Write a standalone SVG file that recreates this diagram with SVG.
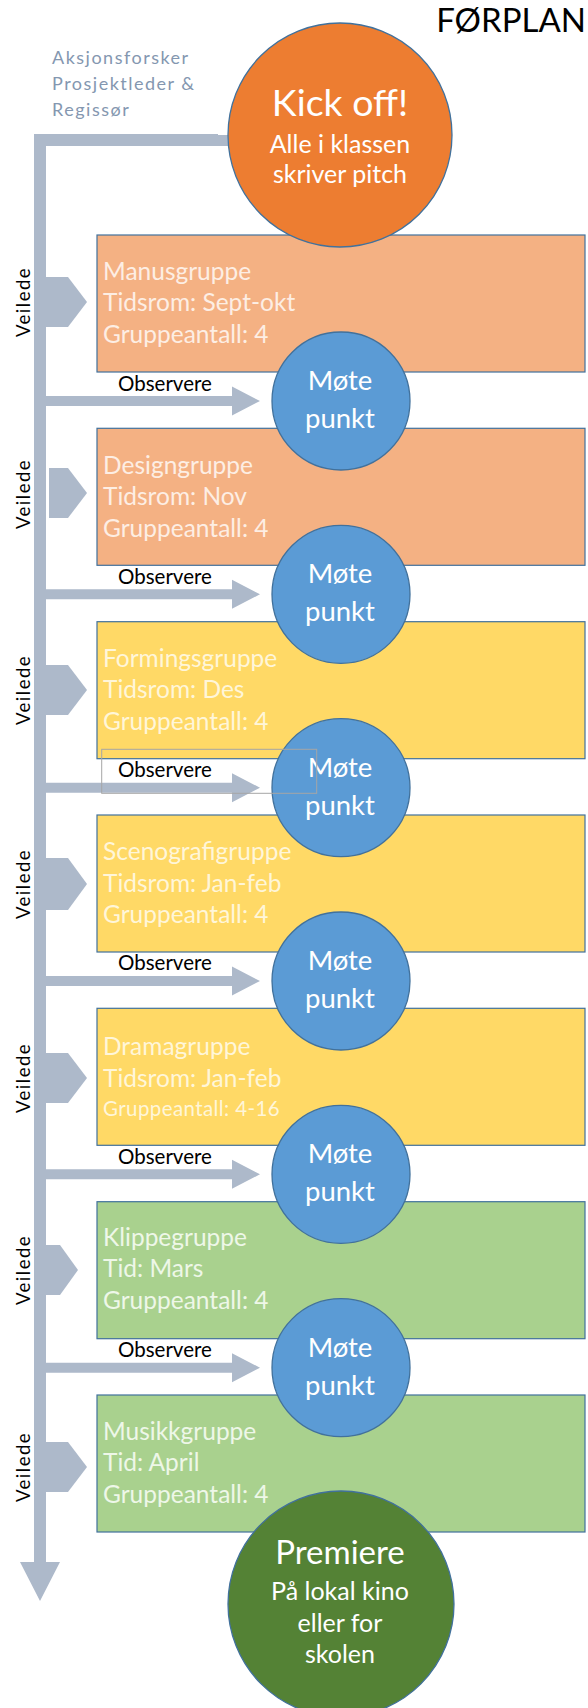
<svg xmlns="http://www.w3.org/2000/svg" width="588" height="1708" viewBox="0 0 588 1708">
  <style>
    text { font-family: "Lato", "Open Sans", "Liberation Sans", sans-serif; }
    .bar { fill: #adb9ca; }
    .box { stroke: #41719c; stroke-width: 1.2; }
    .orange { fill: #f4b183; }
    .gold { fill: #ffd966; }
    .green { fill: #a9d18e; }
    .btxt { font-size: 24.5px; }
    .t-orange { fill: #fdeee4; }
    .t-gold { fill: #fff6d9; }
    .t-green { fill: #eef7e8; }
    .meet { fill: #5b9bd5; stroke: #41719c; stroke-width: 1.3; }
    .meet-t { fill: #ffffff; font-size: 27.5px; text-anchor: middle; }
    .obs { fill: #000000; font-size: 20.5px; }
    .veil { fill: #000000; font-size: 18.5px; text-anchor: middle; letter-spacing: 1.5px; }
  </style>

  <!-- title -->
  <text id="title" x="586" y="32" font-size="33" fill="#000000" text-anchor="end">FØRPLAN</text>

  <!-- role label -->
  <g id="roles" fill="#8497b0" font-size="18" letter-spacing="1.5">
    <text x="52" y="64">Aksjonsforsker</text>
    <text x="52" y="90">Prosjektleder &amp;</text>
    <text x="52" y="116">Regissør</text>
  </g>

  <!-- connectors: main guidance bar, guidance chevrons, observation arrows -->
  <g id="connectors" class="bar">
    <path d="M34,134 H218 V135 H228 V146 H46 V1562 H60 L40,1601 L20,1562 H34 Z"/>
    <!-- Veilede chevrons -->
    <polygon points="46,277 68,277 87,302 68,327 46,327"/>
    <polygon points="49,468 68,468 87,493 68,518 49,518"/>
    <polygon points="46,665 68,665 87,690 68,715 46,715"/>
    <polygon points="46,858 68,858 87,884 68,910 46,910"/>
    <polygon points="46,1053 68,1053 87,1078 68,1103 46,1103"/>
    <polygon points="46,1245 60,1245 78,1270 60,1295 46,1295"/>
    <polygon points="46,1442 68,1442 87,1467 68,1492 46,1492"/>
    <!-- Observere arrows -->
    <polygon points="46,396 232,396 232,386.5 260,401 232,415.5 232,406 46,406"/>
    <polygon points="46,589.3 232,589.3 232,579.8 260,594.3 232,608.8 232,599.3 46,599.3"/>
    <polygon points="46,782.7 232,782.7 232,773.2 260,787.7 232,802.2 232,792.7 46,792.7"/>
    <polygon points="46,976 232,976 232,966.5 260,981 232,995.5 232,986 46,986"/>
    <polygon points="46,1169.3 232,1169.3 232,1159.8 260,1174.3 232,1188.8 232,1179.3 46,1179.3"/>
    <polygon points="46,1362.7 232,1362.7 232,1353.2 260,1367.7 232,1382.2 232,1372.7 46,1372.7"/>
  </g>

  <!-- connector labels -->
  <g id="connector-labels">
    <text class="veil" transform="translate(30,302) rotate(-90)">Veilede</text>
    <text class="veil" transform="translate(30,494) rotate(-90)">Veilede</text>
    <text class="veil" transform="translate(30,690) rotate(-90)">Veilede</text>
    <text class="veil" transform="translate(30,884) rotate(-90)">Veilede</text>
    <text class="veil" transform="translate(30,1078) rotate(-90)">Veilede</text>
    <text class="veil" transform="translate(30,1270) rotate(-90)">Veilede</text>
    <text class="veil" transform="translate(30,1467) rotate(-90)">Veilede</text>
    <text class="obs" x="118" y="391">Observere</text>
    <text class="obs" x="118" y="584">Observere</text>
    <text class="obs" x="118" y="777">Observere</text>
    <text class="obs" x="118" y="970">Observere</text>
    <text class="obs" x="118" y="1164">Observere</text>
    <text class="obs" x="118" y="1357">Observere</text>
  </g>

  <!-- group boxes -->
  <g id="manus">
    <rect class="box orange" x="97" y="235" width="488" height="137"/>
    <g class="btxt t-orange">
      <text x="103" y="280">Manusgruppe</text>
      <text x="103" y="311">Tidsrom: Sept-okt</text>
      <text x="103" y="343">Gruppeantall: 4</text>
    </g>
  </g>
  <g id="design">
    <rect class="box orange" x="97" y="428.3" width="488" height="137"/>
    <g class="btxt t-orange">
      <text x="103" y="473.5">Designgruppe</text>
      <text x="103" y="504.5">Tidsrom: Nov</text>
      <text x="103" y="536.5">Gruppeantall: 4</text>
    </g>
  </g>
  <g id="forming">
    <rect class="box gold" x="97" y="621.7" width="488" height="137"/>
    <g class="btxt t-gold">
      <text x="103" y="666.5">Formingsgruppe</text>
      <text x="103" y="697.5">Tidsrom: Des</text>
      <text x="103" y="729.5">Gruppeantall: 4</text>
    </g>
  </g>
  <g id="scenografi">
    <rect class="box gold" x="97" y="815" width="488" height="137"/>
    <g class="btxt t-gold">
      <text x="103" y="860">Scenografigruppe</text>
      <text x="103" y="891.5">Tidsrom: Jan-feb</text>
      <text x="103" y="923">Gruppeantall: 4</text>
    </g>
  </g>
  <g id="drama">
    <rect class="box gold" x="97" y="1008.3" width="488" height="137"/>
    <g class="t-gold">
      <text class="btxt" x="103" y="1055">Dramagruppe</text>
      <text class="btxt" x="103" y="1087">Tidsrom: Jan-feb</text>
      <text x="103" y="1116" font-size="20.5" letter-spacing="0.4">Gruppeantall: 4-16</text>
    </g>
  </g>
  <g id="klippe">
    <rect class="box green" x="97" y="1201.7" width="488" height="137"/>
    <g class="btxt t-green">
      <text x="103" y="1245.5">Klippegruppe</text>
      <text x="103" y="1277">Tid: Mars</text>
      <text x="103" y="1309">Gruppeantall: 4</text>
    </g>
  </g>
  <g id="musikk">
    <rect class="box green" x="97" y="1395" width="488" height="137"/>
    <g class="btxt t-green">
      <text x="103" y="1439.5">Musikkgruppe</text>
      <text x="103" y="1470.5">Tid: April</text>
      <text x="103" y="1502.5">Gruppeantall: 4</text>
    </g>
  </g>

  <!-- start node -->
  <g id="kickoff">
    <circle cx="340" cy="135" r="112" fill="#ed7d31" stroke="#41719c" stroke-width="1.3"/>
    <g fill="#ffffff" text-anchor="middle">
      <text x="340" y="116" font-size="37.5">Kick off!</text>
      <text x="340" y="153" font-size="25">Alle i klassen</text>
      <text x="340" y="183" font-size="25">skriver pitch</text>
    </g>
  </g>

  <!-- meeting points -->
  <g id="mote1">
    <circle class="meet" cx="341" cy="401" r="69"/>
    <text class="meet-t" x="340" y="390">Møte</text>
    <text class="meet-t" x="340" y="428">punkt</text>
  </g>
  <g id="mote2">
    <circle class="meet" cx="341" cy="594.3" r="69"/>
    <text class="meet-t" x="340" y="583.3">Møte</text>
    <text class="meet-t" x="340" y="621.3">punkt</text>
  </g>
  <g id="mote3">
    <circle class="meet" cx="341" cy="787.7" r="69"/>
    <text class="meet-t" x="340" y="776.7">Møte</text>
    <text class="meet-t" x="340" y="814.7">punkt</text>
  </g>
  <g id="mote4">
    <circle class="meet" cx="341" cy="981" r="69"/>
    <text class="meet-t" x="340" y="970">Møte</text>
    <text class="meet-t" x="340" y="1008">punkt</text>
  </g>
  <g id="mote5">
    <circle class="meet" cx="341" cy="1174.3" r="69"/>
    <text class="meet-t" x="340" y="1163.3">Møte</text>
    <text class="meet-t" x="340" y="1201.3">punkt</text>
  </g>
  <g id="mote6">
    <circle class="meet" cx="341" cy="1367.7" r="69"/>
    <text class="meet-t" x="340" y="1356.7">Møte</text>
    <text class="meet-t" x="340" y="1394.7">punkt</text>
  </g>

  <!-- end node -->
  <g id="premiere">
    <circle cx="341" cy="1604" r="113" fill="#548235" stroke="#41719c" stroke-width="1.3"/>
    <g fill="#ffffff" text-anchor="middle">
      <text x="340" y="1564" font-size="33">Premiere</text>
      <text x="340" y="1600" font-size="25">På lokal kino</text>
      <text x="340" y="1632" font-size="25">eller for</text>
      <text x="340" y="1663" font-size="25">skolen</text>
    </g>
  </g>

  <!-- leftover text frame around the third observation label -->
  <rect id="obs-frame" x="101.7" y="749.3" width="215" height="44" fill="none" stroke="#a6a6a6" stroke-width="1"/>
</svg>
